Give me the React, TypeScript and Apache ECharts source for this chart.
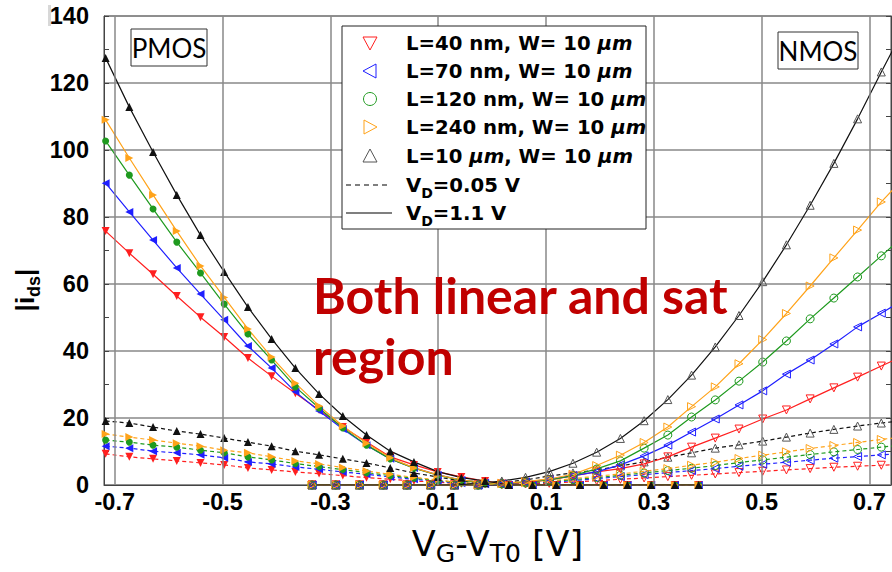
import React, { useEffect, useRef } from 'react';
import * as echarts from 'echarts';

// Tick labels
const X_TICKS = [-0.7, -0.5, -0.3, -0.1, 0.1, 0.3, 0.5, 0.7];

// Gate overdrive samples (V)
const PMOS_X = [-0.717, -0.673, -0.629, -0.585, -0.541, -0.497, -0.453, -0.409, -0.365, -0.321, -0.277, -0.233, -0.189, -0.145, -0.101, -0.057, -0.013, 0.031, 0.075, 0.119, 0.163, 0.207, 0.251, 0.295, 0.339, 0.383];
const NMOS_X = [-0.334, -0.290, -0.246, -0.202, -0.158, -0.114, -0.070, -0.026, 0.018, 0.062, 0.106, 0.150, 0.194, 0.238, 0.282, 0.326, 0.370, 0.414, 0.458, 0.502, 0.546, 0.590, 0.634, 0.678, 0.722, 0.766];

// PMOS, VD = 1.1 V
const P_SAT_L40 = [75.8, 69.2, 62.9, 56.4, 50.1, 44.2, 37.9, 32.5, 27.4, 22.4, 17.3, 12.8, 8.4, 6.0, 3.9, 2.4, 1.2, 0, 0, 0, 0, 0, 0, 0, 0, 0];
const P_SAT_L70 = [90.1, 81.5, 73.1, 64.8, 57.0, 49.3, 41.5, 34.9, 27.8, 22.1, 16.7, 11.9, 7.8, 5.1, 3.0, 1.5, 0.7, 0, 0, 0, 0, 0, 0, 0, 0, 0];
const P_SAT_L120 = [102.7, 92.5, 82.4, 72.5, 63.3, 54.0, 45.1, 37.3, 29.3, 23.0, 17.0, 11.9, 7.8, 5.0, 2.9, 1.4, 0.7, 0, 0, 0, 0, 0, 0, 0, 0, 0];
const P_SAT_L240 = [109.0, 97.6, 86.6, 75.8, 65.4, 56.0, 46.6, 38.2, 30.4, 23.6, 17.6, 12.5, 8.1, 5.1, 3.0, 1.5, 0.8, 0, 0, 0, 0, 0, 0, 0, 0, 0];
const P_SAT_L10U = [127.5, 112.8, 99.4, 86.6, 74.6, 63.6, 53.1, 43.6, 34.9, 27.2, 20.6, 14.9, 10.1, 6.9, 4.0, 2.2, 1.2, 0, 0, 0, 0, 0, 0, 0, 0, 0];

// PMOS, VD = 0.05 V
const P_LIN_L40 = [9.3, 8.4, 7.8, 7.2, 6.6, 6.0, 5.1, 4.5, 3.9, 3.4, 2.8, 2.2, 1.7, 1.2, 0.8, 0.4, 0.2, 0, 0, 0, 0, 0, 0, 0, 0, 0];
const P_LIN_L70 = [11.6, 11.0, 10.1, 9.6, 9.0, 8.1, 6.9, 6.3, 5.4, 4.7, 3.9, 3.2, 2.4, 1.7, 1.1, 0.5, 0.2, 0, 0, 0, 0, 0, 0, 0, 0, 0];
const P_LIN_L120 = [13.4, 12.8, 11.9, 11.3, 10.4, 9.6, 8.4, 7.5, 6.4, 5.5, 4.6, 3.7, 2.8, 2.0, 1.3, 0.6, 0.3, 0, 0, 0, 0, 0, 0, 0, 0, 0];
const P_LIN_L240 = [15.2, 14.3, 13.4, 12.5, 11.6, 10.4, 9.6, 8.4, 7.2, 6.3, 5.2, 4.2, 3.2, 2.3, 1.5, 0.7, 0.3, 0, 0, 0, 0, 0, 0, 0, 0, 0];
const P_LIN_L10U = [19.1, 18.5, 17.3, 16.1, 15.2, 14.0, 12.8, 11.6, 10.1, 9.0, 7.8, 6.6, 5.1, 3.6, 2.4, 1.2, 0.5, 0, 0, 0, 0, 0, 0, 0, 0, 0];

// NMOS, VD = 1.1 V
const N_SAT_L40 = [0, 0, 0, 0, 0, 0, 0, 0, 0.3, 0.8, 1.5, 2.7, 3.9, 4.9, 6.3, 8.4, 11.3, 14.0, 16.7, 19.7, 22.4, 25.7, 29.0, 32.2, 35.5, 38.8];
const N_SAT_L70 = [0, 0, 0, 0, 0, 0, 0, 0, 0.3, 0.9, 1.7, 2.8, 3.9, 6.0, 8.7, 11.9, 15.8, 19.7, 23.9, 28.1, 33.1, 37.3, 42.1, 47.2, 51.3, 55.5];
const N_SAT_L120 = [0, 0, 0, 0, 0, 0, 0, 0, 0.4, 0.9, 1.5, 2.8, 4.8, 7.2, 11.0, 14.9, 20.3, 25.4, 31.0, 36.7, 43.0, 49.6, 55.8, 62.1, 68.4, 74.6];
const N_SAT_L240 = [0, 0, 0, 0, 0, 0, 0, 0, 0.5, 1.0, 1.8, 3.2, 5.8, 8.9, 12.7, 17.3, 23.4, 29.3, 36.2, 43.4, 51.2, 59.4, 67.8, 76.1, 84.5, 92.0];
const N_SAT_L10U = [0, 0, 0, 0, 0, 0, 0, 0.5, 1.2, 2.3, 4.0, 6.5, 9.8, 13.9, 19.2, 25.5, 32.8, 41.2, 50.6, 60.7, 71.7, 83.5, 96.0, 109.3, 123.3, 136.8];

// NMOS, VD = 0.05 V
const N_LIN_L40 = [0, 0, 0, 0, 0, 0, 0, 0, 0.1, 0.3, 0.5, 0.9, 1.3, 1.7, 2.1, 2.5, 2.9, 3.3, 3.7, 4.1, 4.5, 4.9, 5.3, 5.6, 5.9, 6.2];
const N_LIN_L70 = [0, 0, 0, 0, 0, 0, 0, 0, 0.2, 0.5, 0.8, 1.3, 1.9, 2.5, 3.1, 3.7, 4.3, 4.9, 5.6, 6.2, 6.8, 7.4, 8.0, 8.5, 9.0, 9.5];
const N_LIN_L120 = [0, 0, 0, 0, 0, 0, 0, 0, 0.3, 0.6, 1.0, 1.6, 2.2, 2.9, 3.6, 4.3, 5.0, 5.8, 6.7, 7.5, 8.3, 9.1, 9.9, 10.6, 11.3, 12.0];
const N_LIN_L240 = [0, 0, 0, 0, 0, 0, 0, 0, 0.4, 0.7, 1.2, 1.9, 2.6, 3.3, 4.1, 4.9, 5.9, 6.8, 7.9, 8.9, 9.9, 10.9, 11.8, 12.7, 13.6, 14.4];
const N_LIN_L10U = [0, 0, 0, 0, 0, 0, 0, 0, 0.8, 1.5, 2.7, 3.6, 4.5, 5.7, 6.9, 8.3, 9.6, 11.0, 12.0, 13.1, 14.3, 15.5, 16.6, 17.6, 18.5, 19.3];

const LEGEND_LABELS = ['L=40 nm, W= 10 {it|μm}', 'L=70 nm, W= 10 {it|μm}', 'L=120 nm, W= 10 {it|μm}', 'L=240 nm, W= 10 {it|μm}', 'L=10 {it|μm}, W= 10 {it|μm}'];

const RED = '#ff1f1f';
const BLUE = '#1f1fff';
const GREEN = '#1f9a1f';
const ORANGE = '#ffa31a';
const BLACK = '#111111';
const GRAY = '#555555';

type Kind = { color: string; mColor: string; symbol: string; rotate: number };
const KINDS: Kind[] = [
  { color: RED, mColor: RED, symbol: 'triangle', rotate: 180 },
  { color: BLUE, mColor: BLUE, symbol: 'triangle', rotate: 90 },
  { color: GREEN, mColor: GREEN, symbol: 'circle', rotate: 0 },
  { color: ORANGE, mColor: ORANGE, symbol: 'triangle', rotate: -90 },
  { color: BLACK, mColor: GRAY, symbol: 'triangle', rotate: 0 },
];

function mk(name: string, xs: number[], ys: number[], k: Kind, filled: boolean, dashed: boolean) {
  return {
    type: 'line',
    name,
    data: xs.map((x, i) => [x, ys[i]]),
    symbol: k.symbol,
    symbolRotate: k.rotate,
    symbolSize: filled ? (k.symbol === 'circle' ? 7 : 8) : 8,
    showAllSymbol: true,
    clip: true,
    lineStyle: { color: k.color, width: 1.2, type: dashed ? [4, 3] : 'solid' },
    itemStyle: filled
      ? { color: k.color, borderColor: k.color, borderWidth: 0 }
      : { color: 'rgba(255,255,255,0)', borderColor: k.mColor, borderWidth: 1 },
    emphasis: { disabled: true },
    z: dashed ? 2 : 3,
  };
}

function legendMarker(i: number, cx: number, cy: number) {
  const k = KINDS[i];
  const s = 7;
  const style = { fill: 'none', stroke: k.mColor, lineWidth: 1 };
  if (k.symbol === 'circle') return { type: 'circle', shape: { cx, cy, r: 6.5 }, style };
  let pts: number[][];
  if (k.rotate === 180) pts = [[cx - s, cy - s + 1], [cx + s, cy - s + 1], [cx, cy + s]];
  else if (k.rotate === 90) pts = [[cx + s - 1, cy - s], [cx + s - 1, cy + s], [cx - s, cy]];
  else if (k.rotate === -90) pts = [[cx - s + 1, cy - s], [cx - s + 1, cy + s], [cx + s, cy]];
  else pts = [[cx - s, cy + s - 1], [cx + s, cy + s - 1], [cx, cy - s]];
  return { type: 'polygon', shape: { points: pts }, style };
}

export default function App() {
  const ref = useRef<HTMLDivElement>(null);
  useEffect(() => {
    if (!ref.current) return;
    const chart = echarts.init(ref.current, undefined, { renderer: 'svg' });

    const pSat = [P_SAT_L40, P_SAT_L70, P_SAT_L120, P_SAT_L240, P_SAT_L10U];
    const pLin = [P_LIN_L40, P_LIN_L70, P_LIN_L120, P_LIN_L240, P_LIN_L10U];
    const nSat = [N_SAT_L40, N_SAT_L70, N_SAT_L120, N_SAT_L240, N_SAT_L10U];
    const nLin = [N_LIN_L40, N_LIN_L70, N_LIN_L120, N_LIN_L240, N_LIN_L10U];
    const names = ['L40', 'L70', 'L120', 'L240', 'L10u'];

    const series: any[] = [
      {
        type: 'line', name: 'grid', data: [], showSymbol: false, silent: true, z: 1,
        markLine: {
          silent: true, symbol: 'none', label: { show: false }, animation: false,
          lineStyle: { color: '#888', width: 1.5, type: 'solid' },
          emphasis: { disabled: true },
          data: X_TICKS.map((v) => ({ xAxis: v })),
        },
      },
    ];
    for (let i = 0; i < 5; i++) series.push(mk('NMOS lin ' + names[i], NMOS_X, nLin[i], KINDS[i], false, true));
    for (let i = 0; i < 5; i++) series.push(mk('PMOS lin ' + names[i], PMOS_X, pLin[i], KINDS[i], true, true));
    for (let i = 0; i < 5; i++) series.push(mk('NMOS sat ' + names[i], NMOS_X, nSat[i], KINDS[i], false, false));
    for (let i = 0; i < 5; i++) series.push(mk('PMOS sat ' + names[i], PMOS_X, pSat[i], KINDS[i], true, false));

    const legendFont = { fontFamily: 'DejaVu Sans', fontWeight: 'bold' as const, fontSize: 19.7 };
    const rowY = [43, 71, 99, 127, 156, 185, 213];
    const legendEls: any[] = [
      { type: 'rect', shape: { x: 342, y: 26, width: 304, height: 203 }, style: { fill: '#fff', stroke: '#222', lineWidth: 1 }, z: 100 },
    ];
    for (let i = 0; i < 5; i++) {
      legendEls.push({ ...legendMarker(i, 370, rowY[i]), z: 101 });
      legendEls.push({
        type: 'text', x: 406, y: rowY[i], z: 101,
        style: {
          text: LEGEND_LABELS[i], fill: '#000', ...legendFont, textVerticalAlign: 'middle',
          rich: { it: { ...legendFont, fontStyle: 'italic' } },
        },
      });
    }
    legendEls.push({ type: 'line', shape: { x1: 346, y1: rowY[5], x2: 390, y2: rowY[5] }, style: { stroke: '#000', lineWidth: 1.2, lineDash: [5, 4] }, z: 101 });
    legendEls.push({ type: 'line', shape: { x1: 346, y1: rowY[6], x2: 392, y2: rowY[6] }, style: { stroke: '#000', lineWidth: 1.2 }, z: 101 });
    const subRich = { sub: { ...legendFont, fontSize: 14, verticalAlign: 'bottom', lineHeight: 30 } };
    legendEls.push({ type: 'text', x: 406, y: rowY[5], z: 101, style: { text: 'V{sub|D}=0.05 V', fill: '#000', ...legendFont, lineHeight: 24, textVerticalAlign: 'middle', rich: subRich } });
    legendEls.push({ type: 'text', x: 406, y: rowY[6], z: 101, style: { text: 'V{sub|D}=1.1 V', fill: '#000', ...legendFont, lineHeight: 24, textVerticalAlign: 'middle', rich: subRich } });

    const tickFont = { color: '#000', fontSize: 23.5, fontFamily: 'Liberation Sans', fontWeight: 'bold' as const };

    const option: any = {
      animation: false,
      backgroundColor: '#ffffff',
      grid: { left: 104, right: 1, top: 16, bottom: 87, show: true, borderColor: '#444', borderWidth: 1, outerBoundsMode: 'none', containLabel: false },
      xAxis: [
        {
          type: 'value', min: -0.72, max: 0.74,
          axisLine: { show: true, onZero: false, lineStyle: { color: '#444', width: 1 } },
          axisTick: { show: false, customValues: X_TICKS },
          axisLabel: {
            customValues: X_TICKS, margin: 5, ...tickFont,
            formatter: (v: number) => String(Math.round(v * 10) / 10),
          },
          splitLine: { show: false },
          name: 'V{s|G}-V{s|T0} [V]',
          nameLocation: 'middle', nameGap: 37,
          nameTextStyle: {
            color: '#000', fontSize: 35, fontFamily: 'DejaVu Sans', lineHeight: 34, letterSpacing: 1,
            rich: { s: { fontSize: 25, fontFamily: 'DejaVu Sans', verticalAlign: 'bottom', lineHeight: 44 } },
          },
        },
      ],
      yAxis: [
        {
          type: 'value', min: 0, max: 140, interval: 20,
          axisLine: { show: true, onZero: false, lineStyle: { color: '#444', width: 1 } },
          axisTick: { show: true, inside: true, length: 5, lineStyle: { color: '#444' } },
          minorTick: { show: true, splitNumber: 2, length: 5, lineStyle: { color: '#444' } },
          axisLabel: { margin: 15, ...tickFont },
          splitLine: { show: true, lineStyle: { color: '#888', width: 1.5 } },
        },
        {
          type: 'value', min: 0, max: 140, interval: 20, position: 'right',
          axisLine: { show: true, onZero: false, lineStyle: { color: '#444', width: 1 } },
          axisTick: { show: true, inside: true, length: 5, lineStyle: { color: '#444' } },
          minorTick: { show: true, splitNumber: 2, length: 5, lineStyle: { color: '#444' } },
          axisLabel: { show: false },
          splitLine: { show: false },
        },
      ],
      series,
      graphic: [
        { type: 'rect', shape: { x: 48, y: 5, width: 3, height: 21 }, style: { fill: '#d8d8d8' } },
        {
          type: 'text', x: 25, y: 290, rotation: Math.PI / 2,
          style: {
            text: '|i{s|ds}|', fill: '#000', fontSize: 26, fontFamily: 'Liberation Sans', fontWeight: 'bold',
            textAlign: 'center', textVerticalAlign: 'middle', lineHeight: 30,
            rich: { s: { fontSize: 18, fontFamily: 'Liberation Sans', fontWeight: 'bold', verticalAlign: 'bottom', lineHeight: 36 } },
          },
        },
        { type: 'rect', shape: { x: 131, y: 29, width: 76, height: 37 }, style: { fill: '#fff', stroke: '#333', lineWidth: 1 }, z: 100 },
        { type: 'text', x: 169, y: 48, z: 101, style: { text: 'PMOS', fill: '#000', fontSize: 26, fontFamily: 'Lato', textAlign: 'center', textVerticalAlign: 'middle' } },
        { type: 'rect', shape: { x: 778, y: 32, width: 80, height: 37 }, style: { fill: '#fff', stroke: '#333', lineWidth: 1 }, z: 100 },
        { type: 'text', x: 818, y: 51, z: 101, style: { text: 'NMOS', fill: '#000', fontSize: 26, fontFamily: 'Lato', textAlign: 'center', textVerticalAlign: 'middle' } },
        { type: 'text', x: 313, y: 295, z: 101, style: { text: 'Both linear and sat', fill: '#c00000', fontSize: 50, fontFamily: 'Lato', fontWeight: 'bold', textVerticalAlign: 'middle' } },
        { type: 'text', x: 313, y: 356, z: 101, style: { text: 'region', fill: '#c00000', fontSize: 50, fontFamily: 'Lato', fontWeight: 'bold', textVerticalAlign: 'middle' } },
        ...legendEls,
      ],
    };
    chart.setOption(option);
    return () => chart.dispose();
  }, []);
  return <div ref={ref} style={{ width: 892, height: 572, position: 'absolute', left: 0, top: 0 }} />;
}
